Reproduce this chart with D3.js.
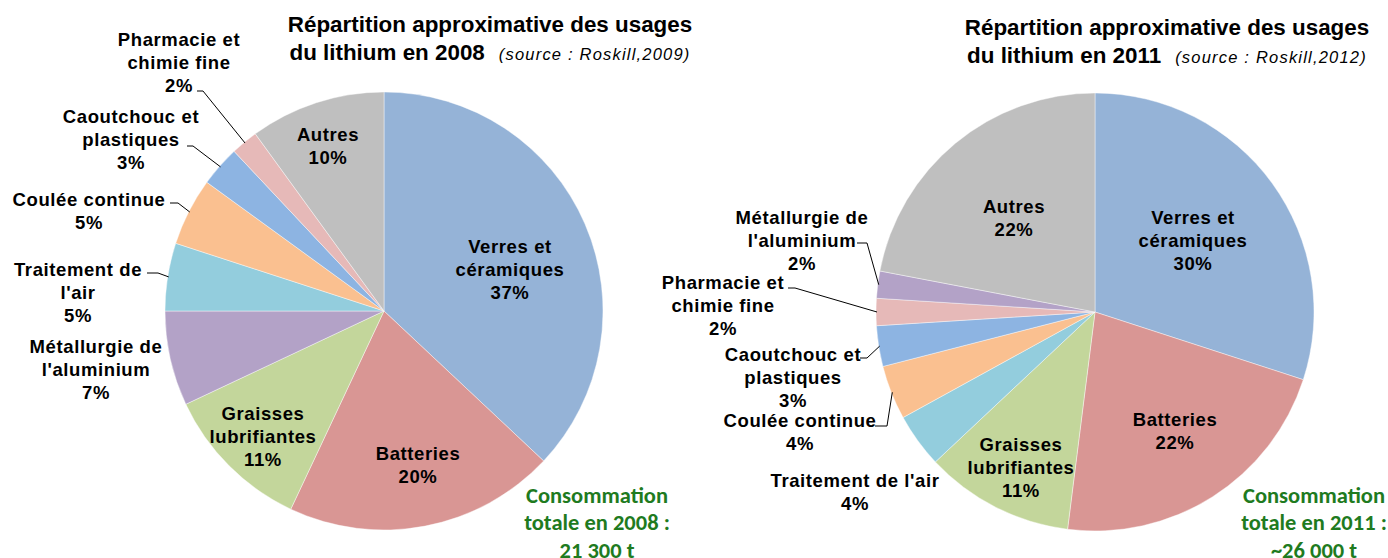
<!DOCTYPE html>
<html>
<head>
<meta charset="utf-8">
<script src="https://cdn.jsdelivr.net/npm/d3@7"></script>
<style>
  body { margin: 0; background: #fff; }
  svg { display: block; }
</style>
</head>
<body>
<svg id="chart" width="1388" height="558"></svg>
<script>
// data (percent of lithium use)
let categories2008 = ["Verres et céramiques", "Batteries", "Graisses lubrifiantes", "Métallurgie de l'aluminium",
  "Traitement de l'air", "Coulée continue", "Caoutchouc et plastiques", "Pharmacie et chimie fine", "Autres"];
let values2008 = [37, 20, 11, 7, 5, 5, 3, 2, 10];
let lines2008 = [["Verres et", "céramiques"], ["Batteries"], ["Graisses", "lubrifiantes"], ["Métallurgie de", "l'aluminium"],
  ["Traitement de", "l'air"], ["Coulée continue"], ["Caoutchouc et", "plastiques"], ["Pharmacie et", "chimie fine"], ["Autres"]];

let categories2011 = ["Verres et céramiques", "Batteries", "Graisses lubrifiantes", "Traitement de l'air",
  "Coulée continue", "Caoutchouc et plastiques", "Pharmacie et chimie fine", "Métallurgie de l'aluminium", "Autres"];
let values2011 = [30, 22, 11, 4, 4, 3, 2, 2, 22];
let lines2011 = [["Verres et", "céramiques"], ["Batteries"], ["Graisses", "lubrifiantes"], ["Traitement de l'air"],
  ["Coulée continue"], ["Caoutchouc et", "plastiques"], ["Pharmacie et", "chimie fine"], ["Métallurgie de", "l'aluminium"], ["Autres"]];

let titleLine1 = "Répartition approximative des usages";
let titles = ["du lithium en 2008", "du lithium en 2011"];
let sources = ["(source : Roskill,2009)", "(source : Roskill,2012)"];
let totals = [["Consommation", "totale en 2008 :", "21 300 t"], ["Consommation", "totale en 2011 :", "~26 000 t"]];

// one colour per usage, shared by both pies
let colArr = ['#95b3d7', '#d99694', '#c3d69b', '#b3a2c7', '#93cddd', '#fac090', '#8db4e2', '#e6b9b8', '#bfbfbf'];
let colScale = d3.scaleOrdinal().domain(categories2008).range(colArr);

// layout of each pie: centre, radius, label spots (first line centre) and leader start/elbow
let layouts = [
  {
    cx: 384, cy: 311, r: 219, titleX: 490, titleY: 32, totalX: 597,
    labels: [
      {x: 510, y: 247}, {x: 418, y: 454}, {x: 263, y: 414}, {x: 96, y: 347},
      {x: 78, y: 270, lead: [[147, 273], [158, 273]]},
      {x: 89, y: 200, lead: [[170, 203], [178, 203]]},
      {x: 131, y: 117, lead: [[187, 146], [193, 146]]},
      {x: 179, y: 40, lead: [[197, 91], [203, 91]]},
      {x: 328, y: 135}
    ]
  },
  {
    cx: 1095, cy: 312, r: 219, titleX: 1167, titleY: 35, totalX: 1314,
    labels: [
      {x: 1193, y: 218}, {x: 1175, y: 420}, {x: 1021, y: 445},
      {x: 855, y: 481},
      {x: 800, y: 421, lead: [[875, 426], [887, 426]]},
      {x: 793, y: 355, lead: [[860, 358], [867, 358]]},
      {x: 723, y: 283, lead: [[788, 288], [795, 288]]},
      {x: 802, y: 218, lead: [[857, 243], [867, 243]]},
      {x: 1014, y: 207}
    ]
  }
];

let svg = d3.select('#chart');
let lineH = 23;

let pie = d3.pie().sort(null).value(d => d.value);

function drawPie(cats, vals, lines, lay, idx) {
  let data = cats.map((c, i) => ({cat: c, value: vals[i], lines: lines[i]}));
  let arcs = pie(data);
  let arc = d3.arc().innerRadius(0).outerRadius(lay.r);

  let g = svg.append('g').attr('transform', `translate(${lay.cx},${lay.cy})`);

  g.selectAll('path')
    .data(arcs)
    .join('path')
    .attr('d', arc)
    .attr('fill', d => colScale(d.data.cat))
    .attr('stroke', '#fff')
    .attr('stroke-opacity', 0.6)
    .attr('stroke-width', 0.7);

  // leader lines: label -> elbow -> edge of slice at mid angle
  arcs.forEach((d, i) => {
    let l = lay.labels[i];
    if (!l.lead) return;
    let a = (d.startAngle + d.endAngle) / 2;
    let end = [lay.cx + Math.sin(a) * (lay.r - 1), lay.cy - Math.cos(a) * (lay.r - 1)];
    svg.append('path')
      .attr('d', d3.line()([l.lead[0], l.lead[1], end]))
      .attr('fill', 'none')
      .attr('stroke', '#000')
      .attr('stroke-width', 1);
  });

  // slice labels (name lines + percent)
  arcs.forEach((d, i) => {
    let l = lay.labels[i];
    let txt = d.data.lines.concat([d.data.value + '%']);
    let t = svg.append('text')
      .attr('text-anchor', 'middle')
      .attr('font-family', '"Liberation Sans", Arial, sans-serif')
      .attr('font-weight', 'bold')
      .attr('font-size', 18.5)
      .attr('letter-spacing', 0.6)
      .attr('fill', '#000');
    txt.forEach((s, j) => {
      t.append('tspan')
        .attr('x', l.x)
        .attr('y', l.y + j * lineH)
        .attr('dy', '0.35em')
        .text(s);
    });
  });

  // title
  svg.append('text')
    .attr('x', lay.titleX).attr('y', lay.titleY)
    .attr('text-anchor', 'middle')
    .attr('font-family', '"Liberation Sans", Arial, sans-serif')
    .attr('font-weight', 'bold')
    .attr('font-size', 22.4)
    .text(titleLine1);

  let t2 = svg.append('text')
    .attr('x', lay.titleX).attr('y', lay.titleY + 28)
    .attr('text-anchor', 'middle')
    .attr('font-family', '"Liberation Sans", Arial, sans-serif')
    .attr('font-size', 22.4);
  t2.append('tspan').attr('font-weight', 'bold').text(titles[idx]);
  t2.append('tspan')
    .attr('dx', 14)
    .attr('font-style', 'italic')
    .attr('font-size', 16.5)
    .attr('letter-spacing', 1.2)
    .text(sources[idx]);

  // total consumption in green
  let t3 = svg.append('text')
    .attr('text-anchor', 'middle')
    .attr('font-family', 'Carlito, Calibri, Lato, sans-serif')
    .attr('font-weight', 'bold')
    .attr('font-size', 22.5)
    .attr('fill', '#1f7b1f');
  totals[idx].forEach((s, j) => {
    t3.append('tspan')
      .attr('x', lay.totalX)
      .attr('y', 495 + j * 27.5)
      .attr('dy', '0.35em')
      .text(s);
  });
}

drawPie(categories2008, values2008, lines2008, layouts[0], 0);
drawPie(categories2011, values2011, lines2011, layouts[1], 1);
</script>
</body>
</html>
